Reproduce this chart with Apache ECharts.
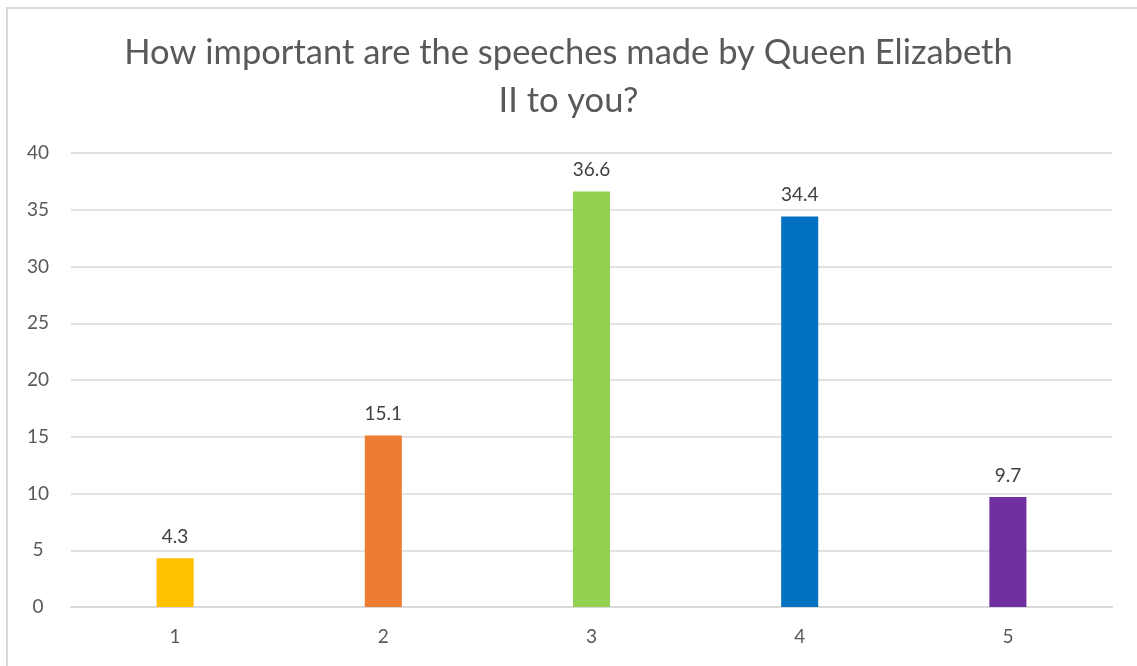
<!DOCTYPE html>
<html>
<head>
<meta charset="utf-8">
<script src="https://cdn.jsdelivr.net/npm/echarts@6/dist/echarts.min.js"></script>
<style>
  html, body { margin: 0; padding: 0; background: #fff; }
  #chart { width: 1137px; height: 666px; }
</style>
</head>
<body>
<div id="chart"></div>
<script>
const titleText = 'How important are the speeches made by Queen Elizabeth\nII to you?';
const categories = ['1', '2', '3', '4', '5'];
const values = [4.3, 15.1, 36.6, 34.4, 9.7];
const barColors = ['#FFC000', '#ED7D31', '#92D050', '#0070C0', '#7030A0'];
const yTicks = { min: 0, max: 40, interval: 5 };

const chart = echarts.init(document.getElementById('chart'), null, { renderer: 'canvas' });
chart.setOption({
  animation: false,
  backgroundColor: '#ffffff',
  textStyle: { fontFamily: 'Lato, "Open Sans", sans-serif' },
  graphic: [{
    type: 'rect',
    shape: { x: 7, y: 8, width: 1150, height: 680 },
    style: { fill: 'none', stroke: '#d9d9d9', lineWidth: 2 },
    silent: true
  }],
  title: {
    text: titleText,
    left: 'center',
    top: 24,
    padding: [5, 0, 5, 12],
    textStyle: {
      fontSize: 34.5,
      fontWeight: 'normal',
      color: '#595959',
      lineHeight: 48,
      fontFamily: 'Lato, "Open Sans", sans-serif'
    }
  },
  grid: { left: 71, right: 25, top: 153, bottom: 59, containLabel: false },
  xAxis: {
    type: 'category',
    data: categories,
    axisLine: { show: true, lineStyle: { color: '#d9d9d9', width: 2 } },
    axisTick: { show: false },
    axisLabel: { color: '#595959', fontSize: 19, margin: 20 }
  },
  yAxis: {
    type: 'value',
    min: yTicks.min,
    max: yTicks.max,
    interval: yTicks.interval,
    axisLine: { show: false },
    axisTick: { show: false },
    axisLabel: { color: '#595959', fontSize: 19, margin: 33, align: 'center' },
    splitLine: { lineStyle: { color: '#d9d9d9', width: 1.5 } }
  },
  series: [{
    type: 'bar',
    barWidth: '17.8%',
    data: values.map((v, i) => ({ value: v, itemStyle: { color: barColors[i] } })),
    label: {
      show: true,
      position: 'top',
      distance: 12,
      color: '#404040',
      fontSize: 19
    }
  }]
});
</script>
</body>
</html>
